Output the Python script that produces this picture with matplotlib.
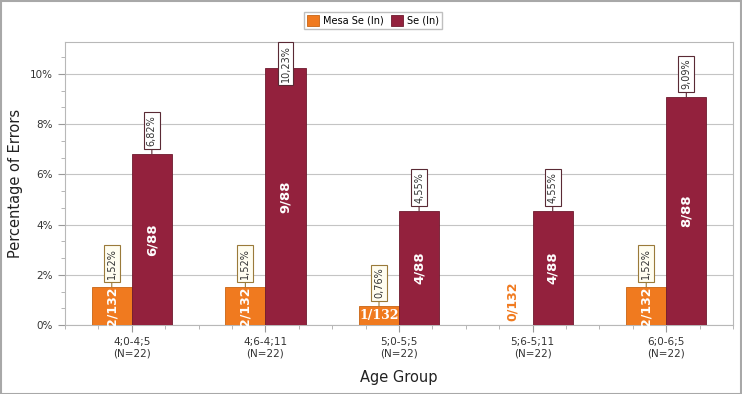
import matplotlib
matplotlib.use("Agg")
import matplotlib.pyplot as plt
import numpy as np
from matplotlib.ticker import MultipleLocator, FuncFormatter
from matplotlib.patches import Rectangle

# data
age_groups = ["4;0-4;5", "4;6-4;11", "5;0-5;5", "5;6-5;11", "6;0-6;5"]
group_n = [22, 22, 22, 22, 22]
mesa_pct = [1.52, 1.52, 0.76, 0.0, 1.52]
mesa_counts = ["2/132", "2/132", "1/132", "0/132", "2/132"]
se_pct = [6.82, 10.23, 4.55, 4.55, 9.09]
se_counts = ["6/88", "9/88", "4/88", "4/88", "8/88"]
series_names = ["Mesa Se (In)", "Se (In)"]

orange = "#F07A1F"
maroon = "#93213D"
y_top = 11.27

fig = plt.figure(figsize=(7.42, 3.94), dpi=100)
fig.add_artist(Rectangle((0.001, 0.001), 0.997, 0.996, transform=fig.transFigure,
                         fill=False, edgecolor="#a8a8a8", lw=1.5))
ax = fig.add_axes([0.0876, 0.175, 0.9004, 0.7184])

x = np.arange(len(age_groups))
w = 0.3
b1 = ax.bar(x - w / 2, mesa_pct, w, color=orange, edgecolor="#c86414", lw=0.6,
            label=series_names[0], zorder=3)
b2 = ax.bar(x + w / 2, se_pct, w, color=maroon, edgecolor="#6e1a2e", lw=0.6,
            label=series_names[1], zorder=3)


def fmt_pct(v):
    return f"{v:.2f}%".replace(".", ",")


def pct_label(xi, v, fc, ec):
    box = dict(boxstyle="square,pad=0.3", fc=fc, ec=ec, lw=0.8)
    if v > 9.5:
        # no room above the bar: the label is pushed down inside the plot area
        ax.annotate(fmt_pct(v), (xi, y_top), xytext=(0, -2), textcoords="offset points",
                    rotation=90, ha="center", va="top", fontsize=7, color="#333333",
                    bbox=box, zorder=5)
        return
    ax.annotate(fmt_pct(v), (xi, v), xytext=(0, 5.5), textcoords="offset points",
                rotation=90, ha="center", va="bottom", fontsize=7, color="#333333",
                bbox=box,
                arrowprops=dict(arrowstyle="-", color=ec, lw=0.8, shrinkA=0, shrinkB=0),
                zorder=5)


for xi, v, c in zip(x - w / 2, mesa_pct, mesa_counts):
    if v > 0:
        pct_label(xi, v, "#fffdf0", "#9a7a3a")
    if v == 0:
        ax.annotate(c, (xi, 0), xytext=(0, 3), textcoords="offset points", rotation=90,
                    ha="center", va="bottom", fontsize=9, fontweight="bold", color=orange,
                    zorder=5)
    elif v < 1:
        ax.text(xi, v / 2, c, ha="center", va="center", fontsize=9, fontweight="bold",
                color="white", zorder=5, family="DejaVu Serif")
    else:
        ax.text(xi, v / 2, c, ha="center", va="center", rotation=90, fontsize=9,
                fontweight="bold", color="white", zorder=5)

for xi, v, c in zip(x + w / 2, se_pct, se_counts):
    pct_label(xi, v, "white", "#5a2a35")
    ax.text(xi, v / 2, c, ha="center", va="center", rotation=90, fontsize=9.5,
            fontweight="bold", color="white", zorder=5)

ax.set_xlim(-0.5, len(age_groups) - 0.5)
ax.set_ylim(0, y_top)
ax.yaxis.set_major_locator(MultipleLocator(2))
ax.yaxis.set_minor_locator(MultipleLocator(2 / 3))
ax.yaxis.set_major_formatter(FuncFormatter(lambda v, p: f"{v:.0f}%"))
ax.set_xticks(x)
ax.set_xticklabels([f"{g}\n(N={n})" for g, n in zip(age_groups, group_n)])
ax.xaxis.set_minor_locator(MultipleLocator(0.25))
ax.tick_params(axis="both", which="major", labelsize=7.5, labelcolor="#333333",
               color="#999999", length=5, width=0.8)
ax.tick_params(axis="both", which="minor", color="#aaaaaa", length=3, width=0.6)
ax.grid(axis="y", which="major", color="#c4c4c4", lw=0.8, zorder=0)
for s in ax.spines.values():
    s.set_color("#b8b8b8")
    s.set_linewidth(0.8)

ax.set_xlabel("Age Group", fontsize=10.5, color="#222222", labelpad=8)
ax.set_ylabel("Percentage of Errors", fontsize=10.5, color="#222222", labelpad=5)

fig.legend(handles=[b1, b2], loc="center", bbox_to_anchor=(0.503, 0.948), ncol=2,
           fontsize=7, frameon=True, fancybox=False, edgecolor="#b0b0b0",
           handlelength=1.2, handleheight=1.3, handletextpad=0.4, columnspacing=0.8,
           borderpad=0.35)

fig.savefig("out.png", dpi=100)
